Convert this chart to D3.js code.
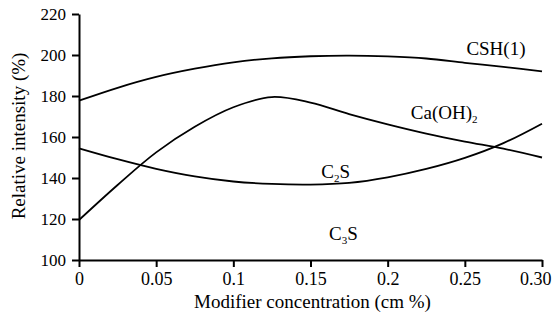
<!DOCTYPE html>
<html>
<head>
<meta charset="utf-8">
<script src="https://cdn.jsdelivr.net/npm/d3@7"></script>
<style>
    body { margin: 0; background: #fff; }
</style>
</head>
<body>
<svg id="chart" width="552" height="320"></svg>
<script>
const FONT = "'Liberation Serif'";

// modifier concentration (cm %)
const concentration = [0, 0.025, 0.05, 0.075, 0.1, 0.125, 0.15, 0.175, 0.2, 0.225, 0.25, 0.275, 0.3];

// relative intensity (%)
const csh  = [177.7, 184.0, 189.3, 193.3, 196.4, 198.4, 199.4, 199.7, 199.3, 198.3, 196.2, 194.2, 192.0];
const caoh = [119.5, 136.6, 152.5, 165.0, 174.5, 179.5, 176.8, 171.2, 166.2, 161.7, 157.8, 154.3, 150.0];
const c2s  = [154.5, 149.2, 144.5, 140.8, 138.3, 137.1, 136.8, 137.6, 140.3, 144.4, 149.8, 157.0, 166.5];

const xTicks = [0, 0.05, 0.1, 0.15, 0.2, 0.25, 0.3];
const xTickLabels = ["0", "0.05", "0.1", "0.15", "0.2", "0.25", "0.30"];
const yTicks = [100, 120, 140, 160, 180, 200, 220];

// curve labels: name, subscript, rest, anchor point in data units
const labels = [
    ["CSH(1)", "", "", 0.251, 200.2],
    ["Ca(OH)", "2", "", 0.215, 168.9],
    ["C", "2", "S", 0.157, 140.2],
    ["C", "3", "S", 0.162, 109.6]
];

const margin = {top: 14, right: 10, bottom: 60, left: 79};
const width  = 552 - margin.left - margin.right;
const height = 320 - margin.top - margin.bottom;

const svg = d3.select("#chart");
const g = svg.append("g")
    .attr("transform", "translate(" + margin.left + "," + margin.top + ")");

const x = d3.scaleLinear().domain([0, 0.3]).range([0, width]);
const y = d3.scaleLinear().domain([100, 220]).range([height, 0]);

// axes
const xAxis = g.append("g")
    .attr("transform", "translate(0," + height + ")")
    .call(d3.axisBottom(x)
        .tickValues(xTicks)
        .tickFormat((d, i) => xTickLabels[i])
        .tickSize(7)
        .tickSizeOuter(0)
        .tickPadding(5));

const yAxis = g.append("g")
    .call(d3.axisLeft(y)
        .tickValues(yTicks)
        .tickFormat(d3.format("d"))
        .tickSize(7)
        .tickSizeOuter(0)
        .tickPadding(6));

xAxis.attr("font-family", null);
yAxis.attr("font-family", null);
xAxis.selectAll("text").style("font-size", "18px");
yAxis.selectAll("text").style("font-size", "17px");

// last label sits against the right edge, as in the figure
xAxis.selectAll(".tick text")
    .filter(d => d === 0.3)
    .attr("text-anchor", "end")
    .attr("x", 9);

svg.selectAll(".domain, .tick line")
    .attr("stroke", "#000")
    .attr("stroke-width", 2);

// axis titles
svg.append("text")
    .attr("x", margin.left + width / 2 + 2)
    .attr("y", 308)
    .attr("text-anchor", "middle")
    .style("font-size", "19px")
    .text("Modifier concentration (cm %)");

svg.append("text")
    .attr("transform", "translate(25," + 136 + ") rotate(-90)")
    .attr("text-anchor", "middle")
    .style("font-size", "19px")
    .text("Relative intensity (%)");

// curves
const line = d3.line()
    .x((d, i) => x(concentration[i]))
    .y(d => y(d))
    .curve(d3.curveCatmullRom.alpha(0.5));

[csh, caoh, c2s].forEach(function(series) {
    g.append("path")
        .datum(series)
        .attr("d", line)
        .attr("fill", "none")
        .attr("stroke", "#000")
        .attr("stroke-width", 1.8);
});

// labels with subscripts
labels.forEach(function(l) {
    const t = g.append("text")
        .attr("x", x(l[3]))
        .attr("y", y(l[4]))
        .style("font-size", "19px")
        .text(l[0]);
    if (l[1]) {
        t.append("tspan")
            .attr("dy", 4)
            .style("font-size", "11px")
            .text(l[1]);
    }
    if (l[2]) {
        t.append("tspan")
            .attr("dy", -4)
            .text(l[2]);
    }
});

svg.selectAll("text")
    .attr("fill", "#000")
    .style("font-family", FONT);
</script>
</body>
</html>
